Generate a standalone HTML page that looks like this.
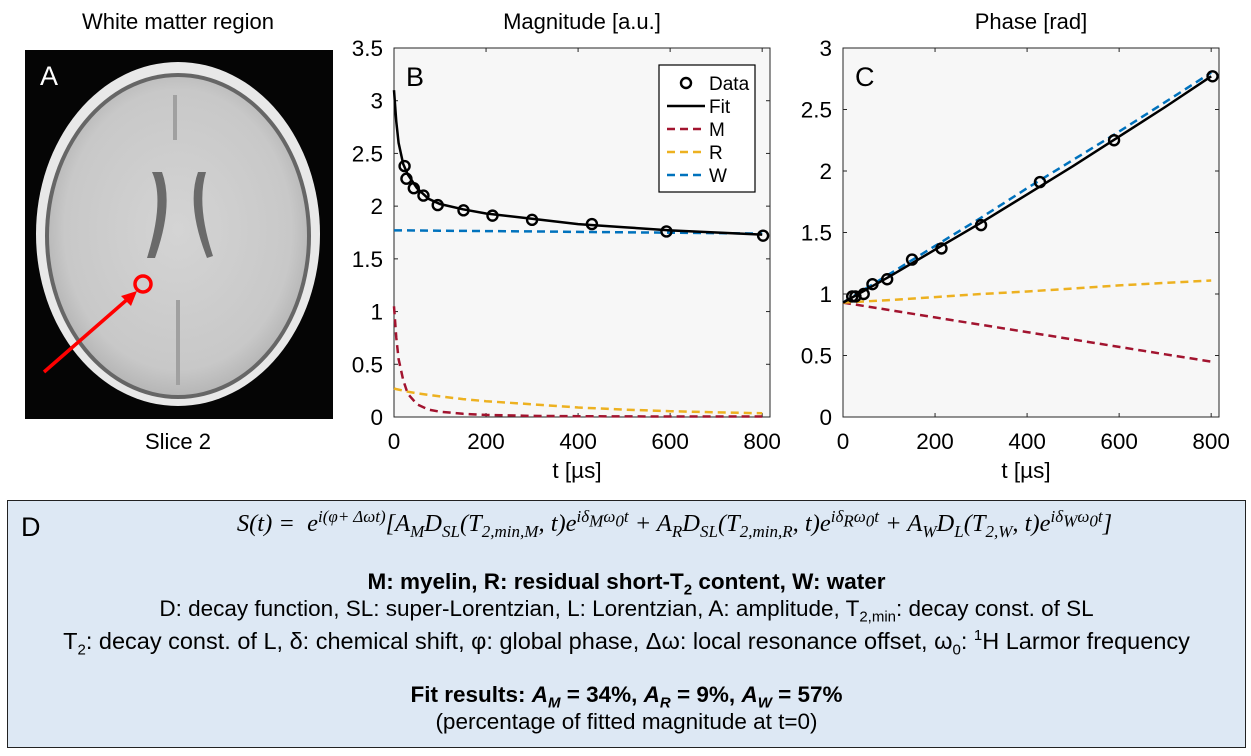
<!DOCTYPE html>
<html><head><meta charset="utf-8"><style>
body{margin:0;width:1251px;height:756px;background:#fff;overflow:hidden;font-family:"Liberation Sans",sans-serif;}
svg{position:absolute;left:0;top:0}
#boxD{position:absolute;left:7px;top:500px;width:1237px;height:246px;background:#dde8f4;border:1.5px solid #222;}
.ln{position:absolute;left:0;width:100%;text-align:center;font-size:22.5px;color:#000;white-space:nowrap;line-height:26px}
.ln sub,.ln sup{font-size:15px;line-height:0}
.eq{font-family:"Liberation Serif",serif;font-style:italic;font-size:24.5px;box-sizing:border-box;padding-left:96px}
.eq sub,.eq sup{font-size:17px}
</style></head><body>
<svg id="svg" width="1251" height="756" xmlns="http://www.w3.org/2000/svg" font-family="Liberation Sans, sans-serif">
<defs>
<radialGradient id="brainG" cx="50%" cy="48%" r="55%"><stop offset="0" stop-color="#d4d4d4"/><stop offset="0.8" stop-color="#c8c8c8"/><stop offset="1" stop-color="#b0b0b0"/></radialGradient>
</defs>
<text x="178" y="29" font-size="22" text-anchor="middle">White matter region</text>
<g>
<rect x="25" y="50" width="308" height="369" fill="#050505"/>
<ellipse cx="178" cy="234" rx="142" ry="172" fill="#e8e8e8"/>
<ellipse cx="178" cy="236" rx="133" ry="163" fill="#666"/>
<ellipse cx="178" cy="236" rx="129" ry="159" fill="url(#brainG)"/>
<path d="M152 172 Q165 200 147 258 L155 258 Q174 205 162 172Z" fill="#6a6a6a"/>
<path d="M198 172 Q186 205 207 258 L213 256 Q196 205 206 172Z" fill="#6a6a6a"/>
<path d="M175 95 L175 140 M178 300 L178 385" stroke="#a0a0a0" stroke-width="4"/>
</g>
<text x="40" y="85" font-size="27" fill="#fff">A</text>
<circle cx="143" cy="284" r="8" fill="none" stroke="#f00" stroke-width="3.5"/>
<line x1="44" y1="372" x2="130" y2="297" stroke="#f00" stroke-width="3.5"/>
<path d="M137 291 L121 296 L131 306Z" fill="#f00"/>
<text x="178" y="449" font-size="22" text-anchor="middle">Slice 2</text>
<text x="582" y="29" font-size="22" text-anchor="middle">Magnitude [a.u.]</text>
<text x="1031" y="29" font-size="22" text-anchor="middle">Phase [rad]</text>
<g id="chartB"></g><g id="chartC"></g>
</svg>
<div id="boxD">
<div style="position:absolute;left:13px;top:11px;font-size:27px">D</div>
<div class="ln eq" style="top:10px">S(t) = &nbsp;e<sup>i(φ+ Δωt)</sup>[A<sub>M</sub>D<sub>SL</sub>(T<sub>2,min,M</sub>, t)e<sup>iδ<sub>M</sub>ω<sub>0</sub>t</sup> + A<sub>R</sub>D<sub>SL</sub>(T<sub>2,min,R</sub>, t)e<sup>iδ<sub>R</sub>ω<sub>0</sub>t</sup> + A<sub>W</sub>D<sub>L</sub>(T<sub>2,W</sub>, t)e<sup>iδ<sub>W</sub>ω<sub>0</sub>t</sup>]</div>
<div class="ln" style="top:68px;font-weight:bold">M: myelin, R: residual short-T<sub>2</sub> content, W: water</div>
<div class="ln" style="top:95px">D: decay function, SL: super-Lorentzian, L: Lorentzian, A: amplitude, T<sub>2,min</sub>: decay const. of SL</div>
<div class="ln" style="top:127px;font-size:23.5px">T<sub>2</sub>: decay const. of L, δ: chemical shift, φ: global phase, Δω: local resonance offset, ω<sub>0</sub>: <sup>1</sup>H Larmor frequency</div>
<div class="ln" style="top:181px;font-weight:bold">Fit results: <i>A<sub>M</sub></i> = 34%, <i>A<sub>R</sub></i> = 9%, <i>A<sub>W</sub></i> = 57%</div>
<div class="ln" style="top:208px">(percentage of fitted magnitude at t=0)</div>
</div>
<script>
// Magnitude data
const magT = [23,27,43,64,95,151,214,300,430,592,802];
const magV = [2.38,2.26,2.17,2.10,2.01,1.96,1.91,1.87,1.83,1.76,1.72];
const curveT = [0,5,10,20,30,50,75,100,150,200,300,400,500,600,700,800];
const magFit = [3.1,2.8,2.6,2.4,2.3,2.17,2.07,2.02,1.97,1.93,1.88,1.83,1.8,1.77,1.75,1.73];
const magM = [1.05,0.75,0.55,0.35,0.22,0.12,0.07,0.05,0.03,0.02,0.01,0.008,0.006,0.005,0.005,0.005];
const magR = [0.27,0.265,0.26,0.25,0.24,0.225,0.21,0.195,0.17,0.15,0.12,0.09,0.07,0.055,0.045,0.035];
const magW = [1.77,1.77,1.77,1.77,1.77,1.769,1.768,1.767,1.765,1.763,1.76,1.756,1.752,1.748,1.744,1.74];
// Phase data
const phT = [20,27,45,64,96,150,214,300,428,589,803];
const phV = [0.98,0.98,1.0,1.08,1.12,1.28,1.37,1.56,1.91,2.25,2.77];
const phCurveT = [0,100,200,300,400,500,600,700,800];
const phFit = [0.93,1.14,1.36,1.58,1.81,2.04,2.28,2.52,2.77];
const phM = [0.93,0.87,0.81,0.75,0.69,0.63,0.57,0.51,0.45];
const phR = [0.93,0.95,0.975,1.0,1.02,1.045,1.07,1.09,1.11];
const phW = [0.93,1.16,1.39,1.62,1.86,2.09,2.32,2.56,2.80];
const xTicks = [0,200,400,600,800];
const magYTicks = ["0","0.5","1","1.5","2","2.5","3","3.5"];
const phYTicks = ["0","0.5","1","1.5","2","2.5","3"];
const NS='http://www.w3.org/2000/svg';
function mk(p,tag,a){const e=document.createElementNS(NS,tag);for(const k in a)e.setAttribute(k,a[k]);p.appendChild(e);return e;}
function chart(g,L,R,xmax,ymax,yTicks,label){
  const T=48,B=417;
  const xs=v=>L+(v/xmax)*(R-L), ys=v=>B-(v/ymax)*(B-T);
  const bg=mk(g,'rect',{x:L,y:T,width:R-L,height:B-T,fill:'#f7f7f7',stroke:'#262626','stroke-width':1});
  
  
  xTicks.forEach(v=>{const x=xs(v);
    mk(g,'line',{x1:x,y1:B,x2:x,y2:B-4,stroke:'#262626'});mk(g,'line',{x1:x,y1:T,x2:x,y2:T+4,stroke:'#262626'});
    const t=mk(g,'text',{x:x,y:B+32,'font-size':22.5,'text-anchor':'middle'});t.textContent=v;
    
    });
  yTicks.forEach(s=>{const y=ys(parseFloat(s));
    mk(g,'line',{x1:L,y1:y,x2:L+4,y2:y,stroke:'#262626'});mk(g,'line',{x1:R,y1:y,x2:R-4,y2:y,stroke:'#262626'});
    const t=mk(g,'text',{x:L-11,y:y+8,'font-size':22.5,'text-anchor':'end'});t.textContent=s;
    
    });
  const xt=mk(g,'text',{x:(L+R)/2-5,y:B+61,'font-size':22.5,'text-anchor':'middle'});xt.textContent='t [µs]';
  
  
  const pl=mk(g,'text',{x:L+12,y:T+38,'font-size':27});pl.textContent=label;
  
  
  return {xs,ys};
}
function line(g,ax,tx,vy,col,dash,name){
  const d=tx.map((t,i)=>(i?'L':'M')+ax.xs(t).toFixed(1)+' '+ax.ys(vy[i]).toFixed(1)).join(' ');
  const p=mk(g,'path',{d:d,fill:'none',stroke:col,'stroke-width':2.5,'stroke-dasharray':dash||'none'});
  
  
}
function pts(g,ax,tx,vy){tx.forEach((t,i)=>{const c=mk(g,'circle',{cx:ax.xs(t),cy:ax.ys(vy[i]),r:5,fill:'none',stroke:'#000','stroke-width':2.4});
  
  });}
const gB=document.getElementById('chartB');
const aB=chart(gB,394,770,817,3.5,magYTicks,'B');
line(gB,aB,curveT,magM,'#a2142f','8 5','series-m');
line(gB,aB,curveT,magR,'#edb120','8 5','series-r');
line(gB,aB,curveT,magW,'#0072bd','8 5','series-w');
line(gB,aB,curveT,magFit,'#000','','series-fit');
pts(gB,aB,magT,magV);
// legend
const lg=mk(gB,'g',{});


mk(lg,'rect',{x:659,y:65,width:96,height:127,fill:'#fff',stroke:'#000','stroke-width':1.2});
const ent=[['Data','#000',null],['Fit','#000',''],['M','#a2142f','8 5'],['R','#edb120','8 5'],['W','#0072bd','8 5']];
ent.forEach((e,i)=>{const y=83+i*23;
  if(e[2]===null){mk(lg,'circle',{cx:686,cy:y,r:5,fill:'none',stroke:'#000','stroke-width':2.4});}
  else mk(lg,'line',{x1:667,y1:y,x2:705,y2:y,stroke:e[1],'stroke-width':2.5,'stroke-dasharray':e[2]||'none'});
  const t=mk(lg,'text',{x:709,y:y+7,'font-size':19});t.textContent=e[0];
  
  });
const gC=document.getElementById('chartC');
const aC=chart(gC,843,1219,817,3,phYTicks,'C');
line(gC,aC,phCurveT,phM,'#a2142f','8 5','series-m');
line(gC,aC,phCurveT,phR,'#edb120','8 5','series-r');
line(gC,aC,phCurveT,phW,'#0072bd','8 5','series-w');
line(gC,aC,phCurveT,phFit,'#000','','series-fit');
pts(gC,aC,phT,phV);
</script>
</body></html>
